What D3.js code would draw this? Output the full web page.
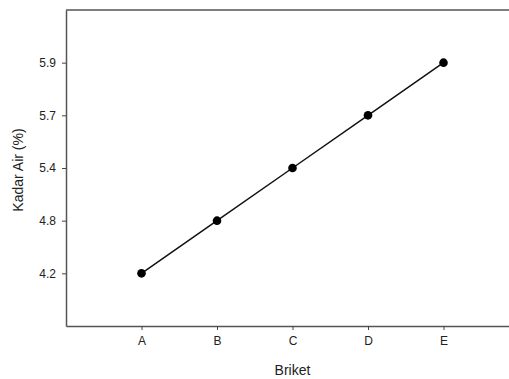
<!DOCTYPE html>
<html><head><meta charset="utf-8">
<script src="https://cdn.jsdelivr.net/npm/d3@7"></script>
<style>html,body{margin:0;padding:0;background:#fff;}svg{display:block;}</style>
</head><body>
<script>
const categories = ["A", "B", "C", "D", "E"];
const kadarAir = [4.2, 4.8, 5.4, 5.7, 5.9];
const yTickLabels = ["4.2", "4.8", "5.4", "5.7", "5.9"];

const W = 509, H = 379;
const mLeft = 66, mRight = 519, mTop = 10, mBottom = 326;
const font = "Arial, 'Liberation Sans', sans-serif";

const svg = d3.select("body").append("svg").attr("width", W).attr("height", H);

const x = d3.scalePoint().domain(categories).range([mLeft, mRight]).padding(1);
const y = d3.scalePoint().domain(yTickLabels).range([mBottom, mTop]).padding(1);
const yPos = v => y(v.toFixed(1));

// frame: top line
svg.append("line").attr("x1", mLeft).attr("x2", mRight).attr("y1", mTop).attr("y2", mTop)
  .attr("stroke", "#555").attr("stroke-width", 1.5);

const xAxis = svg.append("g").attr("transform", `translate(0,${mBottom})`)
  .call(d3.axisBottom(x).tickSize(4).tickPadding(6).tickSizeOuter(0));
const yAxis = svg.append("g").attr("transform", `translate(${mLeft},0)`)
  .call(d3.axisLeft(y).tickSize(4).tickPadding(6).tickSizeOuter(0));

[xAxis, yAxis].forEach(g => {
  g.select(".domain").attr("stroke", "#555").attr("stroke-width", 1.5);
  g.selectAll(".tick line").attr("stroke", "#444").attr("stroke-width", 1);
  g.selectAll(".tick text").attr("font-family", font).attr("font-size", 12).attr("fill", "#222");
});

const data = categories.map((c, i) => ({c, v: kadarAir[i]}));
const line = d3.line().x(d => x(d.c)).y(d => yPos(d.v));
svg.append("path").datum(data).attr("d", line).attr("fill", "none")
  .attr("stroke", "#111").attr("stroke-width", 1.5);
svg.selectAll("circle.pt").data(data).enter().append("circle")
  .attr("class", "pt").attr("cx", d => x(d.c)).attr("cy", d => yPos(d.v))
  .attr("r", 4.3).attr("fill", "#000");

svg.append("text").attr("x", (mLeft + mRight) / 2).attr("y", 375)
  .attr("text-anchor", "middle").attr("font-family", font).attr("font-size", 14)
  .attr("fill", "#222").text("Briket");
svg.append("text").attr("transform", `translate(23,${(mTop + mBottom) / 2 + 2}) rotate(-90)`)
  .attr("text-anchor", "middle").attr("font-family", font).attr("font-size", 14)
  .attr("fill", "#222").text("Kadar Air (%)");
</script>
</body></html>
